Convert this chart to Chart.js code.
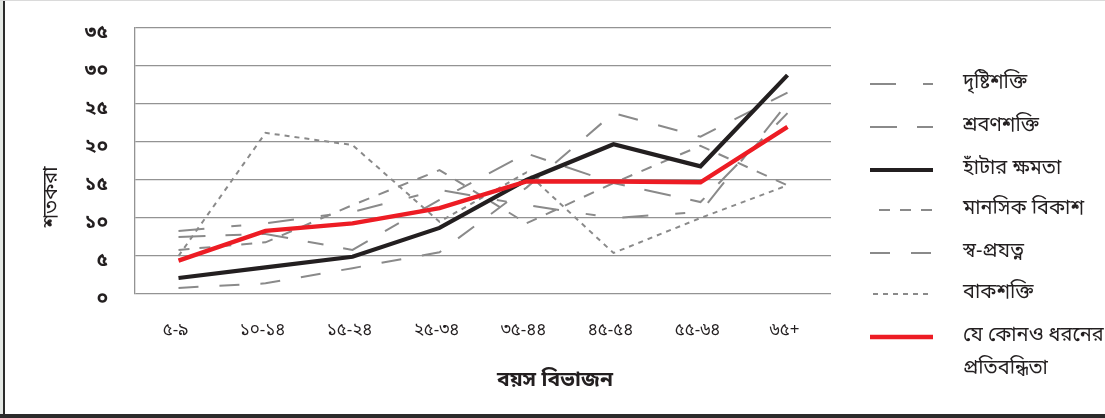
<!DOCTYPE html>
<html>
<head>
<meta charset="utf-8">
<script src="https://cdn.jsdelivr.net/npm/chart.js@4.4.1/dist/chart.umd.min.js"></script>
<style>
html,body{margin:0;padding:0;background:#fff;}
#wrap{position:relative;width:1105px;height:418px;}
canvas{display:block;}
</style>
</head>
<body>
<div id="wrap"><canvas id="c" width="1105" height="418"></canvas></div>
<script>
// ---- data ----
const categories = ['৫-৯','১০-১৪','১৫-২৪','২৫-৩৪','৩৫-৪৪','৪৫-৫৪','৫৫-৬৪','৬৫+'];
const yTickLabels = ['০','৫','১০','১৫','২০','২৫','৩০','৩৫'];
const seriesNames = ['দৃষ্টিশক্তি','শ্রবণশক্তি','হাঁটার ক্ষমতা','মানসিক বিকাশ','স্ব-প্রযত্ন','বাকশক্তি','যে কোনও ধরনের প্রতিবন্ধিতা'];
const vision   = [8.3, 9.3, 10.8, 13.7, 11.7, 10.0, 10.8, 25.1];
const hearing  = [7.5, 7.9, 5.8, 12.4, 18.5, 14.6, 12.1, 23.8];
const walking  = [2.1, 3.5, 4.9, 8.7, 15.0, 19.7, 16.8, 28.8];
const mental   = [5.8, 6.8, 11.7, 16.3, 9.3, 14.6, 19.5, 14.3];
const selfcare = [0.8, 1.4, 3.4, 5.5, 14.0, 23.8, 20.7, 26.5];
const speech   = [5.0, 21.2, 19.6, 9.5, 16.0, 5.4, 10.0, 14.3];
const anyDis   = [4.4, 8.3, 9.3, 11.3, 14.8, 14.8, 14.7, 22.0];
const xTitle = 'বয়স বিভাজন';
const yTitle = 'শতকরা';

const FONT = "'Noto Sans Bengali','Lohit Bengali','Noto Sans','DejaVu Sans',sans-serif";
const GRAY = '#8a8a8a';

function ds(label, data, color, width, dash, order){
  return {label, data, borderColor: color, backgroundColor: color, borderWidth: width,
    borderDash: dash, pointRadius: 0, pointHoverRadius: 0, tension: 0, fill: false,
    borderCapStyle: 'butt', borderJoinStyle: 'miter', order};
}

const datasets = [
  ds(seriesNames[0], vision,   GRAY, 2, [26,27,10,27], 3),
  ds(seriesNames[1], hearing,  GRAY, 2, [27,20,16,20], 3),
  ds(seriesNames[2], walking,  '#231f20', 4.2, [], 1),
  ds(seriesNames[3], mental,   GRAY, 2, [11,10], 3),
  ds(seriesNames[4], selfcare, GRAY, 2, [20,21], 3),
  ds(seriesNames[5], speech,   GRAY, 2, [5,5], 3),
  ds(seriesNames[6], anyDis,   '#ed1c24', 4.4, [], 0)
];

const legendRows = [84,127,170,210,253,294,337];
const legendStart = [870,870,870,879,870,873,870];

const decor = {
  id: 'decor',
  beforeDraw(chart){
    const ctx = chart.ctx;
    ctx.save(); ctx.fillStyle = '#fff'; ctx.fillRect(0,0,chart.width,chart.height); ctx.restore();
  },
  afterDraw(chart){
    const ctx = chart.ctx;
    ctx.save();
    // frame
    ctx.fillStyle = '#e4e8e4'; ctx.fillRect(0,0,3,418);
    ctx.fillStyle = '#2b2b2b'; ctx.fillRect(3,0,2,418); ctx.fillRect(0,414,1105,4);
    ctx.fillStyle = '#dadada'; ctx.fillRect(0,0,1105,1);
    // axis titles
    ctx.fillStyle = '#231f20';
    ctx.textBaseline = 'middle';
    ctx.textAlign = 'center';
    ctx.font = 'bold 21px ' + FONT;
    ctx.fillText(xTitle, 555, 382);
    ctx.save();
    ctx.translate(53, 197);
    ctx.rotate(-Math.PI/2);
    ctx.font = '20px ' + FONT;
    ctx.fillText(yTitle, 0, 0);
    ctx.restore();
    // legend
    chart.data.datasets.forEach((d, i) => {
      const y = legendRows[i];
      ctx.beginPath();
      ctx.setLineDash(d.borderDash || []);
      ctx.lineWidth = d.borderWidth;
      ctx.strokeStyle = d.borderColor;
      ctx.lineCap = 'butt';
      ctx.moveTo(legendStart[i], y);
      ctx.lineTo(933, y);
      ctx.stroke();
      ctx.setLineDash([]);
      ctx.fillStyle = '#231f20';
      ctx.textAlign = 'left';
      ctx.font = '20px ' + FONT;
      const words = d.label.split(' ');
      if (i === 6) {
        ctx.fillText(words.slice(0,3).join(' '), 963, y);
        ctx.fillText(words.slice(3).join(' '), 963, y + 33);
      } else {
        ctx.fillText(d.label, 963, y);
      }
    });
    ctx.restore();
  }
};

new Chart(document.getElementById('c'), {
  type: 'line',
  data: { labels: categories, datasets },
  options: {
    responsive: false,
    animation: false,
    devicePixelRatio: 1,
    layout: { padding: { left: 0, right: 274, top: 28, bottom: 0 } },
    plugins: { legend: { display: false }, tooltip: { enabled: false }, title: { display: false } },
    scales: {
      x: {
        offset: true,
        grid: { display: false, drawTicks: false },
        border: { display: false },
        ticks: { color: '#231f20', font: { family: FONT, size: 17 }, padding: 28, labelOffset: -3, maxRotation: 0, autoSkip: false },
        afterFit(scale){ scale.height = 124; scale.paddingLeft = 0; scale.paddingRight = 0; }
      },
      y: {
        min: 0, max: 35,
        grid: { color: '#939393', lineWidth: 1.3, drawTicks: false },
        border: { color: '#939393', width: 1.3 },
        ticks: { stepSize: 5, color: '#231f20', font: { family: FONT, size: 19, weight: 'bold' }, padding: 27, labelOffset: 6,
          callback: (v) => yTickLabels[Math.round(v/5)] },
        afterFit(scale){ scale.width = 135; scale.paddingTop = 0; scale.paddingBottom = 0; }
      }
    }
  },
  plugins: [decor]
});
</script>
</body>
</html>
